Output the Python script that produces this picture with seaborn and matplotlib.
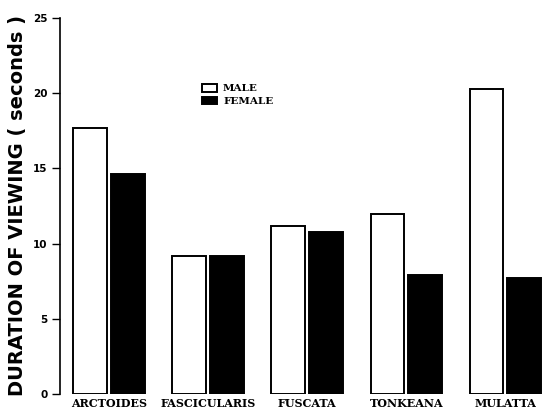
import matplotlib
matplotlib.use("Agg")
import matplotlib.pyplot as plt
import seaborn as sns
import pandas as pd

species = ["ARCTOIDES", "FASCICULARIS", "FUSCATA", "TONKEANA", "MULATTA"]
male = [17.7, 9.2, 11.2, 12.0, 20.3]
female = [14.6, 9.2, 10.8, 7.9, 7.7]
sexes = ["MALE", "FEMALE"]
y_ticks = [0, 5, 10, 15, 20, 25]

df = pd.DataFrame({
    "species": species * 2,
    "sex": [sexes[0]] * len(species) + [sexes[1]] * len(species),
    "duration": male + female,
})

sns.set_style("white")
plt.rcParams["text.color"] = "black"
plt.rcParams["axes.labelcolor"] = "black"
plt.rcParams["xtick.color"] = "black"
plt.rcParams["ytick.color"] = "black"

fig = plt.figure(figsize=(5.43, 4.15), dpi=100)
ax = fig.add_axes([60 / 543, 21 / 415, 1 - 60 / 543, (394 - 18) / 415])

sns.barplot(data=df, x="species", y="duration", hue="sex", order=species,
            hue_order=sexes, palette=["white", "black"], edgecolor="black",
            linewidth=1.4, width=0.76, gap=0.1, ax=ax, legend=True)

ax.set_ylim(0, 25)
ax.set_xlim(-0.495, 4.38)
ax.set_yticks(y_ticks)
ax.set_yticklabels([str(t) for t in y_ticks], fontsize=7.5, fontweight="bold",
                   family="DejaVu Sans")
ax.tick_params(axis="y", direction="out", length=6, width=1, pad=3, left=True)
ax.tick_params(axis="x", length=0, pad=3)
for lbl in ax.get_xticklabels():
    lbl.set_family("DejaVu Serif")
    lbl.set_fontweight("bold")
    lbl.set_fontsize(8)

for side in ["top", "right", "bottom"]:
    ax.spines[side].set_visible(False)
ax.spines["left"].set_linewidth(1.2)
ax.spines["left"].set_color("black")

ax.set_xlabel("")
ax.set_ylabel("DURATION OF VIEWING ( seconds )", fontsize=14,
              fontweight="bold", family="DejaVu Sans", labelpad=4)

handles, labels = ax.get_legend_handles_labels()
leg = ax.legend(handles, labels, loc="upper left",
                bbox_to_anchor=(0.275, 0.85), frameon=False,
                prop={"family": "DejaVu Serif", "weight": "bold", "size": 7.5},
                handlelength=1.4, handleheight=0.8, handletextpad=0.6,
                labelspacing=0.3)

fig.savefig("out.png", dpi=100)
